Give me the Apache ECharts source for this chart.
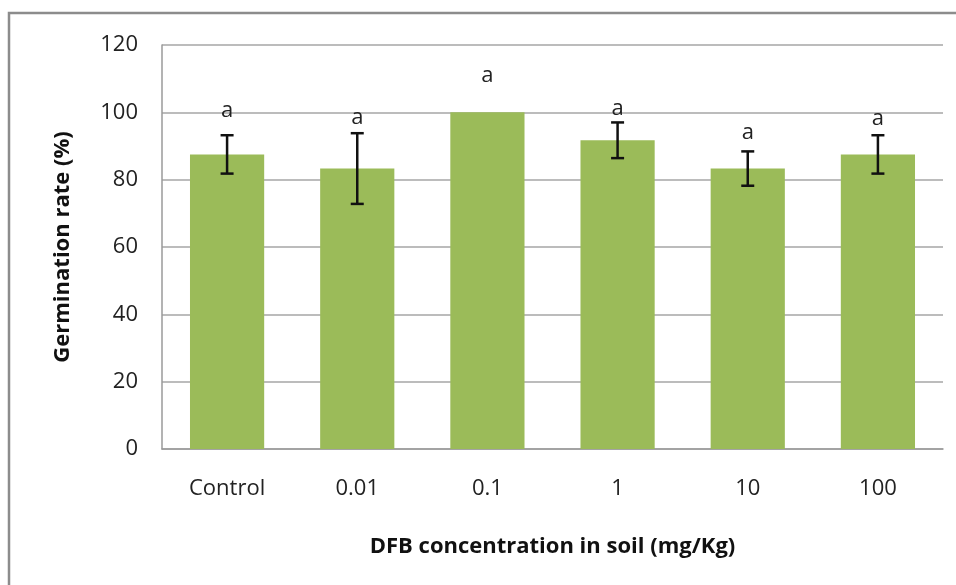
<!DOCTYPE html>
<html>
<head>
<meta charset="utf-8">
<script src="https://cdn.jsdelivr.net/npm/echarts@6/dist/echarts.min.js"></script>
<style>html,body{margin:0;padding:0;background:#fff}#c{width:956px;height:585px}</style>
</head>
<body>
<div id="c"></div>
<script>
const categories = ['Control', '0.01', '0.1', '1', '10', '100'];
const germination = [87.5, 83.3, 100, 91.7, 83.3, 87.5];
const errors = [5.7, 10.5, 0, 5.3, 5.1, 5.7];
const letters = ['a', 'a', 'a', 'a', 'a', 'a'];
const letterPos = [100.5, 98.3, 111, 101, 94, 98];
const yTicks = [0, 20, 40, 60, 80, 100, 120];

const FONT = '"Open Sans", "Liberation Sans", sans-serif';
const chart = echarts.init(document.getElementById('c'), null, {renderer: 'canvas'});

const errData = germination.map((v, i) => [i, v - errors[i], v + errors[i], errors[i]]);
const letterData = letterPos.map((v, i) => [i, v, letters[i]]);

chart.setOption({
  animation: false,
  backgroundColor: '#fff',
  graphic: [{
    type: 'rect', shape: {x: 9, y: 13, width: 1200, height: 1000},
    style: {fill: 'none', stroke: '#8c8c8c', lineWidth: 2.5}, silent: true
  }],
  grid: {left: 162, right: 13, top: 45, bottom: 136, containLabel: false},
  xAxis: {
    type: 'category', data: categories,
    axisLine: {show: true, lineStyle: {color: '#9a9a9a', width: 1.5}},
    axisTick: {show: false},
    axisLabel: {color: '#222', fontFamily: FONT, fontSize: 22, margin: 29},
    name: 'DFB concentration in soil (mg/Kg)', nameLocation: 'middle', nameGap: 87,
    nameTextStyle: {color: '#111', fontFamily: FONT, fontSize: 22, fontWeight: 'bold'}
  },
  yAxis: {
    type: 'value', min: 0, max: 120, interval: 20,
    axisLine: {show: true, lineStyle: {color: '#9a9a9a', width: 1.5}},
    axisTick: {show: false},
    splitLine: {show: true, lineStyle: {color: '#a6a6a6', width: 1.5}},
    axisLabel: {color: '#222', fontFamily: FONT, fontSize: 22, margin: 24,
      formatter: v => yTicks.includes(v) ? String(v) : ''},
    name: 'Germination rate (%)', nameLocation: 'middle', nameGap: 88,
    nameTextStyle: {color: '#111', fontFamily: FONT, fontSize: 22, fontWeight: 'bold'}
  },
  series: [
    {
      type: 'bar', data: germination, barWidth: '57%',
      itemStyle: {color: '#9bbb59'}, z: 2
    },
    {
      type: 'custom', data: errData, z: 5,
      renderItem: function (params, api) {
        if (api.value(3) <= 0) return null;
        const lo = api.coord([api.value(0), api.value(1)]);
        const hi = api.coord([api.value(0), api.value(2)]);
        const x = lo[0], hw = 6.5;
        const st = {stroke: '#111', lineWidth: 2.5};
        return {type: 'group', children: [
          {type: 'line', shape: {x1: x, y1: lo[1], x2: x, y2: hi[1]}, style: st},
          {type: 'line', shape: {x1: x - hw, y1: lo[1], x2: x + hw, y2: lo[1]}, style: st},
          {type: 'line', shape: {x1: x - hw, y1: hi[1], x2: x + hw, y2: hi[1]}, style: st}
        ]};
      }
    },
    {
      type: 'custom', data: letterData, z: 6,
      renderItem: function (params, api) {
        const p = api.coord([api.value(0), api.value(1)]);
        return {type: 'text', x: p[0], y: p[1], style: {
          text: letters[params.dataIndex], fill: '#222', font: '22px ' + FONT,
          align: 'center', verticalAlign: 'middle'}};
      }
    }
  ]
});
</script>
</body>
</html>
